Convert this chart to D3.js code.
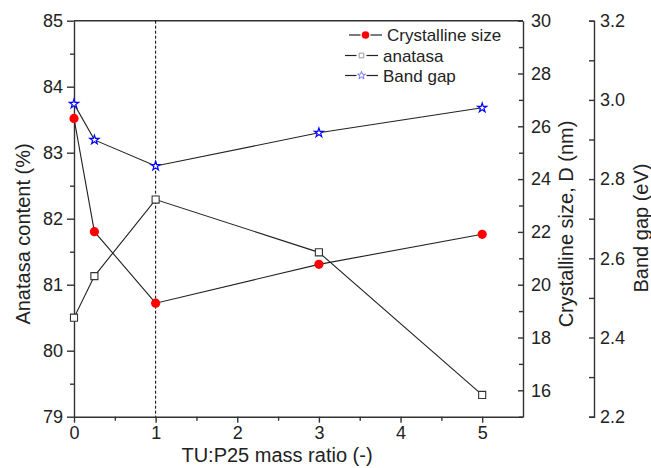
<!DOCTYPE html>
<html><head><meta charset="utf-8">
<script src="https://cdn.jsdelivr.net/npm/d3@7/dist/d3.min.js"></script>
<style>
html,body{margin:0;padding:0;background:#fff;}
svg{display:block;font-family:"Liberation Sans",Arial,sans-serif;}
</style></head>
<body>
<svg id="chart" width="651" height="468"></svg>
<script>
// ---- data ----
const ratio = [0, 0.25, 1, 3, 5];
const anatasa = [80.50, 81.13, 82.29, 81.49, 79.33];          // Anatasa content (%)
const crystSize = [26.30, 22.01, 19.30, 20.77, 21.91];        // Crystalline size, D (nm)
const bandGap = [2.990, 2.899, 2.833, 2.917, 2.980];          // Band gap (eV)
const xTicks = [0, 1, 2, 3, 4, 5];
const xMinor = [0.5, 1.5, 2.5, 3.5, 4.5];
const leftTicks = [79, 80, 81, 82, 83, 84, 85];
const leftMinor = [79.5, 80.5, 81.5, 82.5, 83.5, 84.5];
const dTicks = [16, 18, 20, 22, 24, 26, 28, 30];
const dMinor = [15, 17, 19, 21, 23, 25, 27, 29];
const bgTicks = [2.2, 2.4, 2.6, 2.8, 3.0, 3.2];
const bgMinor = [2.3, 2.5, 2.7, 2.9, 3.1];
const legendNames = ["Crystalline size", "anatasa", "Band gap"];

const svg = d3.select("#chart");
const L = 74, R = 523, T = 20.7, B = 416.7;
const x = d3.scaleLinear().domain([0, 5.5]).range([L, R]);
const yL = d3.scaleLinear().domain([79, 85]).range([B, T]);
const yD = d3.scaleLinear().domain([15, 30]).range([B, T]);
const yB = d3.scaleLinear().domain([2.2, 3.2]).range([B, T]);

const axisCol = "#333";
function styleAxis(g, fs) {
  g.selectAll("path.domain").attr("stroke", axisCol).attr("stroke-width", 1.4);
  g.selectAll(".tick line").attr("stroke", axisCol).attr("stroke-width", 1.4);
  g.selectAll("text").attr("fill", "#222").style("font-size", fs + "px").style("font-family", '"Liberation Sans",Arial,sans-serif');
}

// top frame line
svg.append("line").attr("x1", L).attr("x2", R).attr("y1", T).attr("y2", T)
  .attr("stroke", axisCol).attr("stroke-width", 1.4);

// bottom axis
const gx = svg.append("g").attr("transform", `translate(0,${B})`)
  .call(d3.axisBottom(x).tickValues(xTicks).tickFormat(d3.format("d")).tickSize(6).tickSizeOuter(0).tickPadding(4));
styleAxis(gx, 18);
const gxm = svg.append("g").attr("transform", `translate(0,${B})`)
  .call(d3.axisBottom(x).tickValues(xMinor).tickFormat("").tickSize(4).tickSizeOuter(0));
styleAxis(gxm, 18); gxm.select("path.domain").remove();

// left axis
const gl = svg.append("g").attr("transform", `translate(${L},0)`)
  .call(d3.axisLeft(yL).tickValues(leftTicks).tickFormat(d3.format("d")).tickSize(7).tickSizeOuter(0).tickPadding(4));
styleAxis(gl, 18);
const glm = svg.append("g").attr("transform", `translate(${L},0)`)
  .call(d3.axisLeft(yL).tickValues(leftMinor).tickFormat("").tickSize(4).tickSizeOuter(0));
styleAxis(glm, 18); glm.select("path.domain").remove();

// right axis: crystalline size (ticks inward)
const gd = svg.append("g").attr("transform", `translate(${R},0)`)
  .call(d3.axisRight(yD).tickValues(dTicks).tickFormat(d3.format("d")).tickSizeInner(-5).tickSizeOuter(0).tickPadding(8));
styleAxis(gd, 18);
const gdm = svg.append("g").attr("transform", `translate(${R},0)`)
  .call(d3.axisRight(yD).tickValues(dMinor).tickFormat("").tickSizeInner(-4).tickSizeOuter(0));
styleAxis(gdm, 18); gdm.select("path.domain").remove();

// far right axis: band gap
const BX = 594;
const gb = svg.append("g").attr("transform", `translate(${BX},0)`)
  .call(d3.axisRight(yB).tickValues(bgTicks).tickFormat(d3.format(".1f")).tickSizeInner(-5).tickSizeOuter(-5).tickPadding(6));
styleAxis(gb, 18);
const gbm = svg.append("g").attr("transform", `translate(${BX},0)`)
  .call(d3.axisRight(yB).tickValues(bgMinor).tickFormat("").tickSizeInner(-5).tickSizeOuter(0));
styleAxis(gbm, 18); gbm.select("path.domain").remove();

// axis titles
const tf = '"Liberation Sans",Arial,sans-serif';
svg.append("text").attr("transform", "translate(29.5,234) rotate(-90)").attr("text-anchor", "middle")
  .style("font-size", "20px").style("font-family", tf).attr("fill", "#222").text("Anatasa content (%)");
svg.append("text").attr("transform", "translate(573,224) rotate(-90)").attr("text-anchor", "middle")
  .style("font-size", "20px").style("font-family", tf).attr("fill", "#222").text("Crystalline size, D (nm)");
svg.append("text").attr("transform", "translate(648,228) rotate(-90)").attr("text-anchor", "middle")
  .style("font-size", "20px").style("font-family", tf).attr("fill", "#222").text("Band gap (eV)");
svg.append("text").attr("x", 277).attr("y", 462).attr("text-anchor", "middle")
  .style("font-size", "20px").style("font-family", tf).attr("fill", "#222").text("TU:P25 mass ratio (-)");

// dashed reference line at ratio = 1
svg.append("line").attr("x1", x(1)).attr("x2", x(1)).attr("y1", T).attr("y2", B)
  .attr("stroke", "#000").attr("stroke-width", 1).attr("stroke-dasharray", "3,2");

// series
const ptsA = ratio.map((r, i) => [x(r), yL(anatasa[i])]);
const ptsD = ratio.map((r, i) => [x(r), yD(crystSize[i])]);
const ptsB = ratio.map((r, i) => [x(r), yB(bandGap[i])]);
const line = d3.line();
[ptsB, ptsA, ptsD].forEach(p => svg.append("path").attr("d", line(p))
  .attr("fill", "none").attr("stroke", "#222").attr("stroke-width", 1.1));

const star = d3.symbol().type(d3.symbolStar).size(26);
const sq = d3.symbol().type(d3.symbolSquare).size(50);
svg.selectAll(".ma").data(ptsA).enter().append("path")
  .attr("d", sq).attr("transform", d => `translate(${d[0]},${d[1]})`)
  .attr("fill", "#fff").attr("stroke", "#333").attr("stroke-width", 1.1);
svg.selectAll(".md").data(ptsD).enter().append("circle")
  .attr("cx", d => d[0]).attr("cy", d => d[1]).attr("r", 4.6).attr("fill", "#ff0000");
svg.selectAll(".mb").data(ptsB).enter().append("path")
  .attr("d", star).attr("transform", d => `translate(${d[0]},${d[1]})`)
  .attr("fill", "#fff").attr("stroke", "#0000ff").attr("stroke-width", 1.2);

// legend
const leg = [
  {name: legendNames[0], x1: 349, x2: 382, cy: 35, tx: 387},
  {name: legendNames[1], x1: 345, x2: 378, cy: 55.5, tx: 383},
  {name: legendNames[2], x1: 345, x2: 378, cy: 75.5, tx: 383}
];
leg.forEach((e, i) => {
  const mx = (e.x1 + e.x2) / 2;
  svg.append("line").attr("x1", e.x1).attr("x2", mx - 5).attr("y1", e.cy).attr("y2", e.cy).attr("stroke", "#222").attr("stroke-width", 1.2);
  svg.append("line").attr("x1", mx + 5).attr("x2", e.x2).attr("y1", e.cy).attr("y2", e.cy).attr("stroke", "#222").attr("stroke-width", 1.2);
  if (i === 0) svg.append("circle").attr("cx", mx).attr("cy", e.cy).attr("r", 3.8).attr("fill", "#ff0000");
  if (i === 1) svg.append("path").attr("d", d3.symbol().type(d3.symbolSquare).size(22)).attr("transform", `translate(${mx},${e.cy})`)
      .attr("fill", "#fff").attr("stroke", "#999").attr("stroke-width", 1);
  if (i === 2) svg.append("path").attr("d", d3.symbol().type(d3.symbolStar).size(20)).attr("transform", `translate(${mx},${e.cy})`)
      .attr("fill", "#fff").attr("stroke", "#7777ff").attr("stroke-width", 1);
  svg.append("text").attr("x", e.tx).attr("y", e.cy + 6).style("font-size", "17px").style("font-family", tf)
    .attr("fill", "#222").text(e.name);
});
</script>
</body></html>
